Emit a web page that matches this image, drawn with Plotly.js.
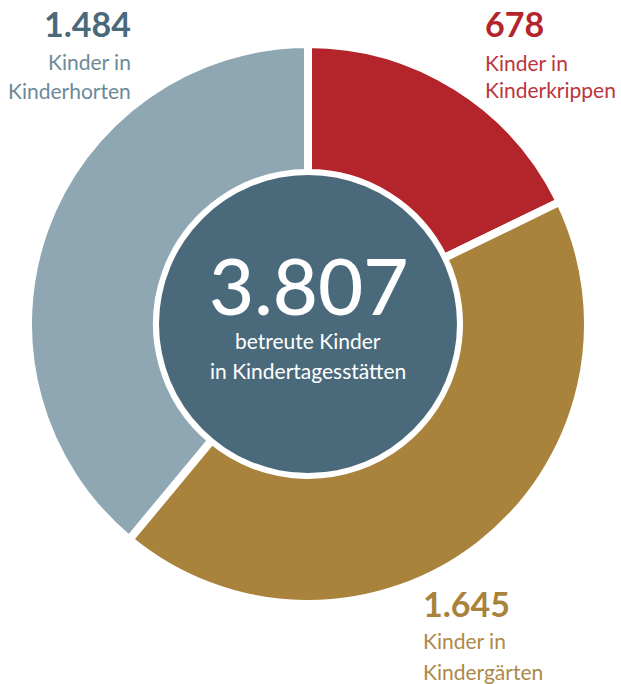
<!DOCTYPE html>
<html>
<head>
<meta charset="utf-8">
<script src="https://cdn.plot.ly/plotly-3.0.1.min.js"></script>
<style>html,body{margin:0;padding:0;background:#fff;}#chart{width:621px;height:684px;}</style>
</head>
<body>
<div id="chart"></div>
<script>
const categories = ['Kinderkrippen', 'Kindergärten', 'Kinderhorten'];
const values = [678, 1645, 1484];
const valueLabels = ['678', '1.645', '1.484'];
const totalLabel = '3.807';
const centerLines = ['betreute Kinder', 'in Kindertagesstätten'];
const sliceColors = ['#b4252b', '#a9823c', '#8fa6b3'];
const numColors = ['#b4252b', '#a9823c', '#4a6a7b'];
const textColors = ['#bb353b', '#ad8847', '#6c8999'];

const W = 621, H = 684;
const px = x => x / W;
const py = y => 1 - y / H;

const cx = 308, cy = 324, R = 280;
const FONT = 'Lato, "Open Sans", sans-serif';

const trace = {
  type: 'pie',
  values: values,
  labels: categories,
  sort: false,
  direction: 'clockwise',
  rotation: 0,
  hole: 151 / R,
  textinfo: 'none',
  hoverinfo: 'none',
  showlegend: false,
  marker: {colors: sliceColors, line: {color: '#ffffff', width: 8}},
  domain: {x: [px(cx - R), px(cx + R)], y: [py(cy + R), py(cy - R)]}
};

const labelPos = [
  {x: 483, xa: 'left', b: [36, 70, 97]},
  {x: 421, xa: 'left', b: [616, 648, 679]},
  {x: 133, xa: 'right', b: [36, 69, 98]}
];

const annotations = [];
function addText(text, x, baseline, size, color, xa, weight) {
  annotations.push({
    text: text, xref: 'paper', yref: 'paper',
    x: px(x), y: py(baseline - 0.36 * size),
    xanchor: xa, yanchor: 'middle', showarrow: false,
    font: {family: FONT, size: size, color: color, weight: weight || 400}
  });
}
for (let i = 0; i < categories.length; i++) {
  const p = labelPos[i];
  addText(valueLabels[i], p.x, p.b[0], 34, numColors[i], p.xa, 700);
  addText('Kinder in', p.x, p.b[1], 21, textColors[i], p.xa, 400);
  addText(categories[i], p.x, p.b[2], 21, textColors[i], p.xa, 400);
}
addText(totalLabel, cx, 313, 78, '#ffffff', 'center', 500);
addText(centerLines[0], cx, 348, 21, '#ffffff', 'center', 400);
addText(centerLines[1], cx, 378, 21, '#ffffff', 'center', 400);

const rc = 149;
const layout = {
  width: W, height: H,
  margin: {l: 0, r: 0, t: 0, b: 0},
  paper_bgcolor: '#ffffff',
  plot_bgcolor: '#ffffff',
  showlegend: false,
  shapes: [{
    type: 'circle', xref: 'paper', yref: 'paper',
    x0: px(cx - rc), x1: px(cx + rc), y0: py(cy + rc), y1: py(cy - rc),
    fillcolor: '#4a6a7b', line: {width: 0}, layer: 'above'
  }],
  annotations: annotations
};

Plotly.newPlot('chart', [trace], layout, {displayModeBar: false, staticPlot: true});
</script>
</body>
</html>
